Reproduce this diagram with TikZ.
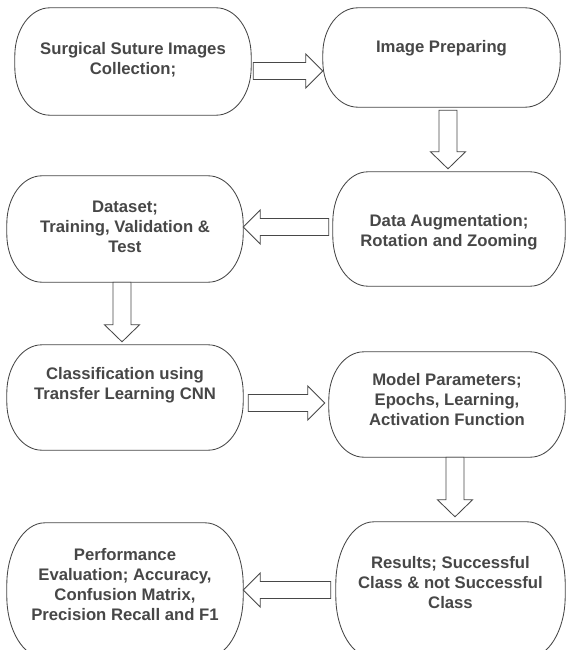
\documentclass[tikz,border=0pt]{standalone}
\usepackage{fontspec}
\setmainfont{Liberation Sans}
\usetikzlibrary{calc}
\tikzset{
  boxline/.style={draw=black!72, line width=0.85pt},
  blockarrow/.style={draw=black!72, line width=0.85pt, fill=white, line join=miter},
  lbl/.style={font=\bfseries\fontsize{16.7}{20}\selectfont, text=black!72, align=center, inner sep=0pt},
  boxarea/.style={draw=none, inner sep=0pt, rectangle},
}
% name, cx, cy, w, h, rx, ry
\newcommand\pill[7]{%
  \node[boxarea, minimum width=#4pt, minimum height=#5pt] (#1) at (#2,#3) {};
  \draw[boxline] ($(#1.north west)+(#6pt,0pt)$) -- ($(#1.north east)+(-#6pt,0pt)$)
    arc[start angle=90,end angle=0,x radius=#6pt,y radius=#7pt]
    -- ($(#1.south east)+(0pt,#7pt)$)
    arc[start angle=0,end angle=-90,x radius=#6pt,y radius=#7pt]
    -- ($(#1.south west)+(#6pt,0pt)$)
    arc[start angle=270,end angle=180,x radius=#6pt,y radius=#7pt]
    -- ($(#1.north west)+(0pt,-#7pt)$)
    arc[start angle=180,end angle=90,x radius=#6pt,y radius=#7pt] -- cycle;
}
\newcommand\rblock[3]{\draw[blockarrow] let \p1=(#1),\p2=(#2),\p3=(0,#3) in
  (\x1,\y3+8.5pt) -- (\x2-17pt,\y3+8.5pt) -- (\x2-17pt,\y3+17pt) -- (\x2,\y3)
  -- (\x2-17pt,\y3-17pt) -- (\x2-17pt,\y3-8.5pt) -- (\x1,\y3-8.5pt) -- cycle;}
\newcommand\lblock[3]{\draw[blockarrow] let \p1=(#1),\p2=(#2),\p3=(0,#3) in
  (\x1,\y3+8.5pt) -- (\x2+17pt,\y3+8.5pt) -- (\x2+17pt,\y3+17pt) -- (\x2,\y3)
  -- (\x2+17pt,\y3-17pt) -- (\x2+17pt,\y3-8.5pt) -- (\x1,\y3-8.5pt) -- cycle;}
\newcommand\dblock[3]{\draw[blockarrow] let \p1=(#1),\p2=(#2),\p3=(#3,0) in
  (\x3-9pt,\y1) -- (\x3-9pt,\y2+17pt) -- (\x3-17.5pt,\y2+17pt) -- (\x3,\y2)
  -- (\x3+17.5pt,\y2+17pt) -- (\x3+9pt,\y2+17pt) -- (\x3+9pt,\y1) -- cycle;}
\begin{document}
\begin{tikzpicture}[x=1pt,y=-1pt]
\clip (0,0) rectangle (568,650);
\fill[white] (0,0) rectangle (568,650);
\pill{b1}{133}{61.5}{236}{107}{35}{48}
\pill{b2}{441.5}{57.5}{237}{99}{35}{46}
\pill{b3}{449}{229}{232}{114}{35}{50}
\pill{b4}{125}{229}{236}{106}{35}{48}
\pill{b5}{125}{397.5}{236}{105}{35}{48}
\pill{b6}{447}{404.5}{236}{105}{35}{48}
\pill{b7}{450.5}{590}{229}{136}{38}{62}
\pill{b8}{125}{590.5}{236}{135}{38}{62}

\node[lbl] (t1) at (133,60) {Surgical Suture Images\\Collection;};
\node[lbl] (t2) at (441.5,48.5) {Image Preparing};
\node[lbl] (t3) at (449,232) {Data Augmentation;\\Rotation and Zooming};
\node[lbl] (t4) at (125,227) {Dataset;\\Training, Validation \&\\Test};
\node[lbl] (t5) at (125,385) {Classification using\\Transfer Learning CNN};
\node[lbl] (t6) at (447,400) {Model Parameters;\\Epochs, Learning,\\Activation Function};
\node[lbl] (t7) at (450.5,583) {Results; Successful\\Class \& not Successful\\Class};
\node[lbl] (t8) at (125,585) {Performance\\Evaluation; Accuracy,\\Confusion Matrix,\\Precision Recall and F1};

\rblock{$(b1.east)+(2pt,0pt)$}{b2.west}{71}
\lblock{$(b3.west)+(-4pt,0pt)$}{b4.east}{227}
\rblock{$(b5.east)+(5pt,0pt)$}{$(b6.west)+(-4pt,0pt)$}{403}
\lblock{$(b7.west)+(-5pt,0pt)$}{b8.east}{590}
\dblock{$(b2.south)+(0pt,-3pt)$}{$(b3.north)+(0pt,3pt)$}{448}
\dblock{b4.south}{$(b5.north)+(0pt,3pt)$}{122}
\dblock{b6.south}{$(b7.north)+(0pt,5pt)$}{455}
\end{tikzpicture}
\end{document}
